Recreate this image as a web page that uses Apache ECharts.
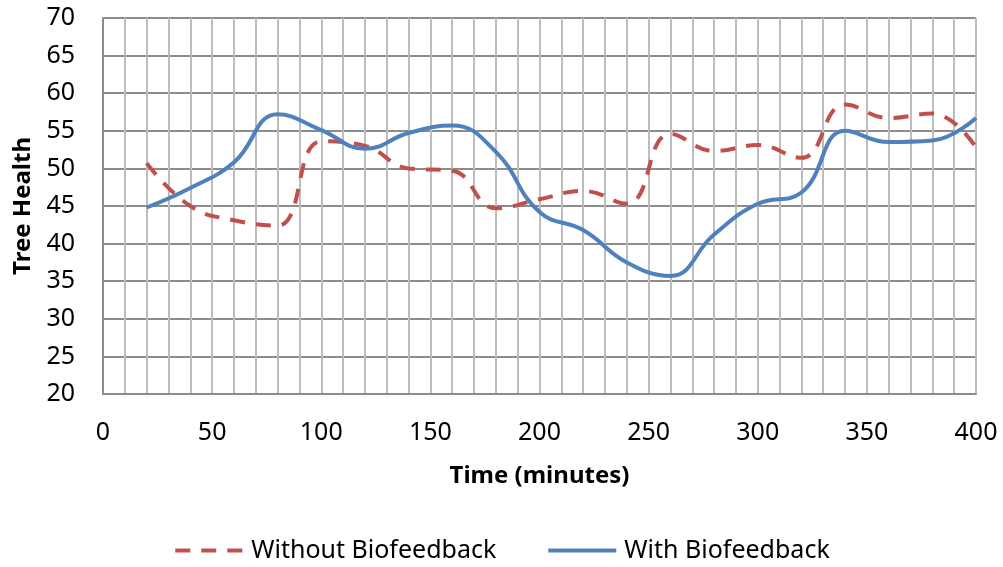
<!DOCTYPE html>
<html>
<head>
  <meta charset="UTF-8">
  <title>Tree Health</title>
  <style>
    html, body { margin: 0; padding: 0; background: #fff; }
    #chart { width: 1003px; height: 567px; }
  </style>
  <script src="https://cdn.jsdelivr.net/npm/echarts@6/dist/echarts.min.js"></script>
</head>
<body>
  <div id="chart"></div>
  <script>
    // time in minutes
    var times = [20, 40, 60, 80, 100, 120, 140, 160, 180, 200, 220, 240, 260, 280, 300, 320, 340, 360, 380, 400];
    var withoutBio = [50.7, 45.0, 43.1, 42.4, 53.6, 53.0, 50.0, 49.7, 44.7, 45.9, 47.0, 45.3, 54.6, 52.3, 53.1, 51.4, 58.5, 56.7, 57.3, 52.8];
    var withBio = [44.8, 47.4, 50.8, 57.2, 55.1, 52.6, 54.7, 55.7, 52.2, 44.2, 41.8, 37.5, 35.7, 41.2, 45.3, 46.8, 55.0, 53.5, 53.7, 56.7];

    var font = '"Noto Sans", "Open Sans", sans-serif';

    function pairs(ys) {
      return times.map(function (t, i) { return [t, ys[i]]; });
    }

    var chart = echarts.init(document.getElementById('chart'));
    chart.setOption({
      animation: false,
      grid: { left: 103, right: 27, top: 18, bottom: 173 },
      legend: {
        top: 533,
        left: 'center',
        itemWidth: 68,
        itemHeight: 14,
        itemGap: 50,
        itemStyle: { opacity: 0 },
        lineStyle: { width: 4 },
        textStyle: { fontFamily: font, fontSize: 25, color: '#000', padding: [0, 0, 0, 3] },
        data: ['Without Biofeedback', 'With Biofeedback']
      },
      xAxis: {
        type: 'value',
        min: 0, max: 400, interval: 50,
        name: 'Time (minutes)',
        nameLocation: 'middle',
        nameGap: 70,
        nameTextStyle: { fontFamily: font, fontSize: 24, fontWeight: 'bold', color: '#000' },
        axisLine: { show: true, lineStyle: { color: '#8c8c8c', width: 2 } },
        axisTick: { show: false },
        axisLabel: { fontFamily: font, fontSize: 25, color: '#000', margin: 26 },
        splitLine: { show: true, lineStyle: { color: '#bdbdbd', width: 2 } },
        minorTick: { show: false, splitNumber: 5 },
        minorSplitLine: { show: true, lineStyle: { color: '#bdbdbd', width: 2 } }
      },
      yAxis: {
        type: 'value',
        min: 20, max: 70, interval: 5,
        name: 'Tree Health',
        nameLocation: 'middle',
        nameGap: 68,
        nameTextStyle: { fontFamily: font, fontSize: 24, fontWeight: 'bold', color: '#000' },
        axisLine: { show: true, lineStyle: { color: '#8c8c8c', width: 2 } },
        axisTick: { show: false },
        axisLabel: { fontFamily: font, fontSize: 25, color: '#000', margin: 28 },
        splitLine: { show: true, lineStyle: { color: '#8c8c8c', width: 2 } }
      },
      series: [
        {
          name: 'Without Biofeedback',
          type: 'line',
          data: pairs(withoutBio),
          smooth: 0.45,
          symbol: 'none',
          color: '#C0504D',
          lineStyle: { color: '#C0504D', width: 4, type: [15, 11] }
        },
        {
          name: 'With Biofeedback',
          type: 'line',
          data: pairs(withBio),
          smooth: 0.45,
          symbol: 'none',
          color: '#4F81BD',
          lineStyle: { color: '#4F81BD', width: 4 }
        }
      ]
    });
  </script>
</body>
</html>
